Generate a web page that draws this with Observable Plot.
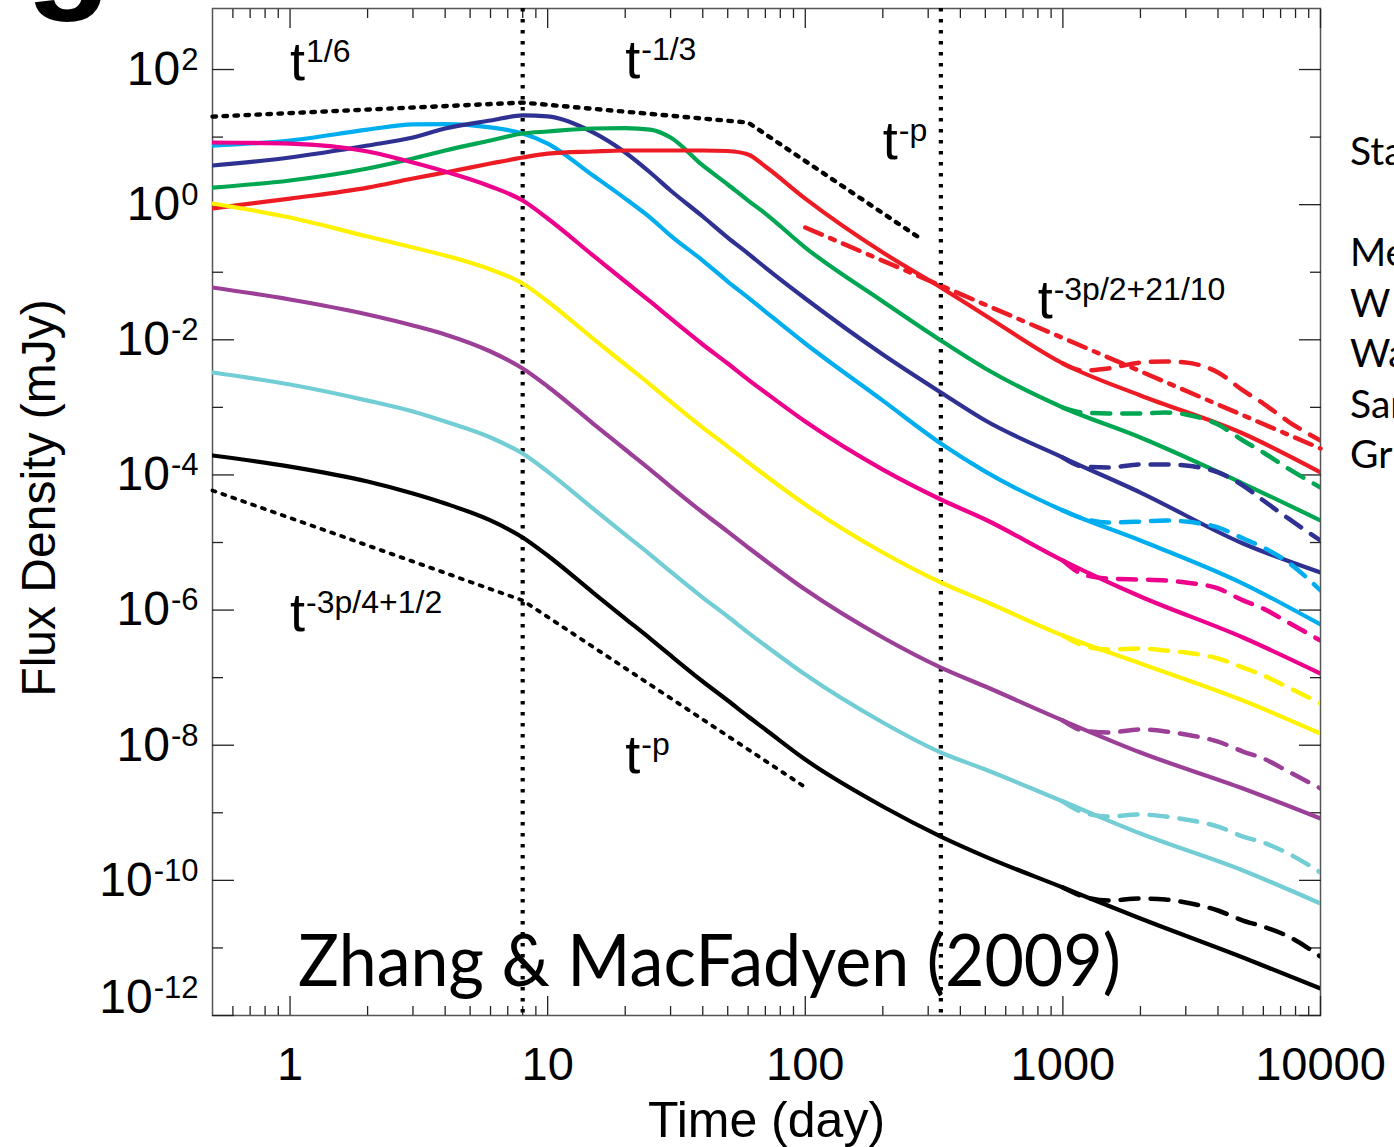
<!DOCTYPE html>
<html><head><meta charset="utf-8">
<script src="https://cdn.jsdelivr.net/npm/d3@7"></script>
<script src="https://cdn.jsdelivr.net/npm/@observablehq/plot@0.6"></script>
<style>
html,body{margin:0;padding:0;background:#fff;overflow:hidden;}
#wrap{position:relative;width:1394px;height:1147px;overflow:hidden;}
#legend{position:absolute;left:1350px;top:125px;font-family:Lato,"Open Sans",sans-serif;font-size:39px;line-height:50.5px;color:#000;white-space:pre;}
#panel{position:absolute;left:26px;top:-126px;font-family:"Liberation Sans",Arial,sans-serif;font-weight:bold;font-size:140px;line-height:140px;color:#000;}
</style></head><body>
<div id="wrap"><div id="chart"></div><div id="legend"></div><div id="panel"></div></div>
<script>
// ---- data (time in days, flux density in mJy) ----
const days = [0.5,1,2,3,4,6,8,10,15,20,25,30,40,50,60,70,100,200,336,500,1000,2000,5000,10000];
const lightBlueFlux = [7.50,8.90,12.9,15.4,15.6,13.9,11.3,8.03,2.70,1.23,0.645,0.349,0.149,0.0729,0.0422,0.0262,0.00881,0.00126,2.92e-4,1.12e-4,2.98e-5,1.07e-5,2.47e-6,6.11e-7];
const navyFlux = [3.80,4.99,7.50,9.86,13.4,17.6,20.9,20.2,11.7,5.91,2.99,1.62,0.668,0.326,0.189,0.117,0.0408,0.00606,0.00166,6.39e-4,1.81e-4,5.49e-5,9.66e-6,3.60e-6];
const greenFlux = [1.79,2.28,3.43,4.82,6.33,8.90,11.3,12.1,13.4,13.6,12.9,9.86,3.80,1.99,1.15,0.739,0.232,0.0369,0.00976,0.00376,9.95e-4,3.58e-4,7.46e-5,2.12e-5];
const redFlux = [0.877,1.23,1.79,2.44,2.99,4.06,4.99,5.71,6.12,6.33,6.33,6.33,6.33,6.22,5.52,3.67,1.23,0.196,0.0594,0.0229,0.00446,0.0015,4.10e-4,1.09e-4];
const magentaFlux = [8.31,8.03,6.12,4.20,3.09,1.86,1.15,0.624,0.177,0.0729,0.0369,0.0207,0.00852,0.00446,0.00258,0.00166,6.17e-4,1.20e-4,4.33e-5,2.19e-5,5.41e-6,1.59e-6,3.93e-7,1.15e-7];
const yellowFlux = [1.04,0.645,0.338,0.232,0.177,0.110,0.0681,0.0369,0.0104,0.00431,0.00218,0.00122,5.03e-4,2.63e-4,1.53e-4,9.80e-5,3.65e-5,7.11e-6,2.56e-6,1.34e-6,4.20e-7,1.62e-7,4.59e-8,1.49e-8];
const purpleFlux = [0.0594,0.0395,0.0237,0.0163,0.0120,0.00671,0.00376,0.00204,5.77e-4,2.38e-4,1.20e-4,6.74e-5,2.78e-5,1.45e-5,8.43e-6,5.41e-6,2.01e-6,3.93e-7,1.41e-7,7.39e-8,2.32e-8,7.80e-9,2.29e-9,8.23e-10];
const tealFlux = [0.00328,0.00218,0.00126,8.68e-4,6.17e-4,3.58e-4,2.07e-4,1.12e-4,3.18e-5,1.31e-5,6.64e-6,3.72e-6,1.53e-6,8.03e-7,4.65e-7,2.99e-7,1.11e-7,2.17e-8,7.80e-9,4.37e-9,1.47e-9,4.93e-10,1.40e-10,4.54e-11];
const blackFlux = [1.94e-4,1.33e-4,7.99e-5,5.31e-5,3.78e-5,2.12e-5,1.19e-5,6.42e-6,1.82e-6,7.50e-7,3.79e-7,2.13e-7,8.77e-8,4.59e-8,2.66e-8,1.71e-8,6.14e-9,1.24e-9,4.45e-10,2.25e-10,7.84e-11,2.72e-11,7.21e-12,2.51e-12];

const lateDays = [1000,1200,1500,2000,2500,3000,4000,5000,6000,7500,10000];
const redDashed = [0.00446,0.00351,0.00376,0.00461,0.00477,0.00461,0.00328,0.00178,0.00114,6.17e-4,3.23e-4];
const greenDashed = [9.95e-4,8.39e-4,8.11e-4,8.11e-4,8.39e-4,7.84e-4,5.57e-4,3.23e-4,2.15e-4,1.24e-4,6.51e-5];
const navyDashed = [1.81e-4,1.33e-4,1.29e-4,1.43e-4,1.43e-4,1.38e-4,1.09e-4,6.98e-5,4.18e-5,2.27e-5,1.07e-5];
const lightBlueDashed = [2.98e-5,2.27e-5,1.98e-5,2.04e-5,2.12e-5,2.04e-5,1.67e-5,1.15e-5,8.43e-6,5.06e-6,1.95e-6];
const magentaDashed = [5.41e-6,3.36e-6,2.93e-6,2.83e-6,2.74e-6,2.56e-6,2.09e-6,1.39e-6,1.05e-6,6.54e-7,3.54e-7];
const yellowDashed = [4.20e-7,2.99e-7,2.61e-7,2.70e-7,2.52e-7,2.35e-7,1.92e-7,1.41e-7,1.08e-7,7.14e-8,4.14e-8];
const purpleDashed = [2.32e-8,1.65e-8,1.54e-8,1.71e-8,1.60e-8,1.44e-8,1.13e-8,8.07e-9,6.36e-9,4.08e-9,2.29e-9];
const tealDashed = [1.47e-9,1.01e-9,8.81e-10,9.43e-10,8.81e-10,7.95e-10,6.26e-10,4.45e-10,3.63e-10,2.49e-10,1.31e-10];
const blackDashed = [7.84e-11,5.77e-11,5.03e-11,5.38e-11,5.20e-11,4.70e-11,3.58e-11,2.54e-11,2.07e-11,1.48e-11,7.46e-12];

// red dash-dot asymptote t^(-3p/2+21/10)
const dashDotDays = [100,10000];
const dashDotFlux = [0.459,2.46e-4];
// black dotted guides
const upperGuideDays = [0.5,8,60,280];
const upperGuideFlux = [20.1,32.4,16.4,0.315];
const lowerGuideDays = [0.5,8,100];
const lowerGuideFlux = [5.89e-5,1.39e-6,2.39e-9];
const breakDays = [8,336];

// annotations
const annotationLabels = ["t^1/6","t^-1/3","t^-p","t^-3p/2+21/10","t^-3p/4+1/2","t^-p"];
const annotationDays = [1.0,20,200,798,1.0,20];
const annotationFlux = [69,76,4.66,0.0207,4.98e-7,3.94e-9];

// ticks
const xLabelValues = [1,10,100,1000,10000];
const xLabelText = ["1","10","100","1000","10000"];
const xMinorTicks = [0.6,0.7,0.8,0.9,2,3,4,5,6,7,8,9,20,30,40,50,60,70,80,90,200,300,400,500,600,700,800,900,2000,3000,4000,5000,6000,7000,8000,9000];
const yLabelValues = [1e2,1e0,1e-2,1e-4,1e-6,1e-8,1e-10,1e-12];
const yLabelText = ["10^2","10^0","10^-2","10^-4","10^-6","10^-8","10^-10","10^-12"];
const yMinorTicks = [1e1,1e-1,1e-3,1e-5,1e-7,1e-9,1e-11];

const legendFragments = ["Sta","","Me","W","Wa","Sar","Gr"];
const panelLetter = "g";
const captionText = "Zhang & MacFadyen (2009)";

// ---- styles ----
const palette = {lightBlue:"#00AEEF", navy:"#2E3192", green:"#00A651", red:"#ED1C24", magenta:"#EC008C", yellow:"#FFF200", purple:"#9B3F97", teal:"#72CDD5", black:"#000000"};
const solidSeries = {lightBlue:lightBlueFlux, navy:navyFlux, green:greenFlux, red:redFlux, magenta:magentaFlux, yellow:yellowFlux, purple:purpleFlux, teal:tealFlux, black:blackFlux};
const dashedSeries = {red:redDashed, green:greenDashed, navy:navyDashed, lightBlue:lightBlueDashed, magenta:magentaDashed, yellow:yellowDashed, purple:purpleDashed, teal:tealDashed, black:blackDashed};

const solidRows = [];
for (const [k, vals] of Object.entries(solidSeries)) vals.forEach((v,i)=>solidRows.push({series:k, day:days[i], flux:v}));
const dashedRows = [];
for (const [k, vals] of Object.entries(dashedSeries)) vals.forEach((v,i)=>dashedRows.push({series:k, day:lateDays[i], flux:v}));
const zip = (xs, ys) => xs.map((x,i)=>({day:x, flux:ys[i]}));

const helv = "Liberation Sans, Arial, Helvetica, sans-serif";
const gill = "Lato, 'Open Sans', sans-serif";
const tickColor = "#222";

const marks = [
  Plot.frame({stroke:"#555", strokeWidth:1.5}),
  // inward ticks on all four sides
  Plot.axisX({anchor:"bottom", ticks:xLabelValues, tickSize:19, dy:-19, fill:"none", stroke:tickColor, strokeWidth:1.3, label:null}),
  Plot.axisX({anchor:"bottom", ticks:xMinorTicks, tickSize:9, dy:-9, fill:"none", stroke:tickColor, strokeWidth:1.3, label:null}),
  Plot.axisX({anchor:"top", ticks:xLabelValues, tickSize:19, dy:19, fill:"none", stroke:tickColor, strokeWidth:1.3, label:null}),
  Plot.axisX({anchor:"top", ticks:xMinorTicks, tickSize:9, dy:9, fill:"none", stroke:tickColor, strokeWidth:1.3, label:null}),
  Plot.axisY({anchor:"left", ticks:yLabelValues, tickSize:22, dx:22, fill:"none", stroke:tickColor, strokeWidth:1.3, label:null}),
  Plot.axisY({anchor:"left", ticks:yMinorTicks, tickSize:11, dx:11, fill:"none", stroke:tickColor, strokeWidth:1.3, label:null}),
  Plot.axisY({anchor:"right", ticks:yLabelValues, tickSize:22, dx:-22, fill:"none", stroke:tickColor, strokeWidth:1.3, label:null}),
  Plot.axisY({anchor:"right", ticks:yMinorTicks, tickSize:11, dx:-11, fill:"none", stroke:tickColor, strokeWidth:1.3, label:null}),
  // guides
  Plot.ruleX(breakDays, {stroke:"#000", strokeWidth:4.2, strokeDasharray:"3.5 7.5"}),
  Plot.line(zip(upperGuideDays, upperGuideFlux), {x:"day", y:"flux", stroke:"#000", strokeWidth:4.4, strokeDasharray:"3.5 7.5"}),
  Plot.line(zip(lowerGuideDays, lowerGuideFlux), {x:"day", y:"flux", stroke:"#000", strokeWidth:3.8, strokeDasharray:"3 7.5"}),
];
for (const k of Object.keys(solidSeries)) {
  marks.push(Plot.line(solidRows.filter(d=>d.series===k), {x:"day", y:"flux", stroke:palette[k], strokeWidth:4.2, curve:"monotone-x", clip:true}));
}
for (const k of Object.keys(dashedSeries)) {
  marks.push(Plot.line(dashedRows.filter(d=>d.series===k), {x:"day", y:"flux", stroke:palette[k], strokeWidth:4.5, strokeDasharray:"18 12", curve:"monotone-x", clip:true}));
}
marks.push(Plot.line(zip(dashDotDays, dashDotFlux), {x:"day", y:"flux", stroke:palette.red, strokeWidth:4.5, strokeDasharray:"18 9 5 9"}));

const annotations = annotationLabels.map((s,i)=>({label:s, day:annotationDays[i], flux:annotationFlux[i]}));
marks.push(
  Plot.text(annotations, {x:"day", y:"flux", text:"label", textAnchor:"start", lineAnchor:"bottom", fontSize:54, fontFamily:helv, fill:"#000"}),
  Plot.text(xLabelValues, {x:d=>d, frameAnchor:"bottom", text:(d,i)=>xLabelText[i], textAnchor:"middle", lineAnchor:"top", dy:31, fontSize:47, fontFamily:helv, fill:"#000"}),
  Plot.text(yLabelValues.slice(0,-1), {y:d=>d, frameAnchor:"left", text:(d,i)=>yLabelText[i], textAnchor:"end", lineAnchor:"middle", dx:-14, fontSize:48, fontFamily:helv, fill:"#000"}),
  Plot.text(yLabelValues.slice(-1), {y:d=>d, frameAnchor:"left", text:()=>yLabelText[yLabelText.length-1], textAnchor:"end", lineAnchor:"middle", dx:-14, dy:-18, fontSize:48, fontFamily:helv, fill:"#000"}),
  Plot.text(["Time (day)"], {frameAnchor:"bottom", textAnchor:"middle", lineAnchor:"bottom", dy:121, fontSize:50, fontFamily:helv, fill:"#000"}),
  Plot.text(["Flux Density (mJy)"], {frameAnchor:"left", textAnchor:"middle", rotate:-90, lineAnchor:"bottom", dx:-158, dy:-14, fontSize:48, fontFamily:helv, fill:"#000"}),
  Plot.text([captionText], {x:()=>1.074, y:()=>2.77e-12, textAnchor:"start", lineAnchor:"bottom", fontSize:72, fontFamily:gill, fill:"#000"})
);

const chart = Plot.plot({
  width:1394, height:1147,
  marginLeft:212, marginRight:74, marginTop:8, marginBottom:132,
  x:{type:"log", domain:[0.5,10000], axis:null},
  y:{type:"log", domain:[1e-12,800], axis:null},
  style:{background:"#fff", overflow:"visible"},
  marks
});

// superscripts: "base^exp" -> base + raised tspan
chart.querySelectorAll("text").forEach(t => {
  const s = t.textContent; const i = s.indexOf("^"); if (i < 0) return;
  const isAnnot = s.startsWith("t");
  t.textContent = s.slice(0,i);
  const ts = document.createElementNS("http://www.w3.org/2000/svg","tspan");
  ts.setAttribute("dy", isAnnot ? -18 : -15);
  ts.setAttribute("dx", 1);
  ts.setAttribute("font-size", isAnnot ? 32 : 31);
  ts.textContent = s.slice(i+1);
  t.appendChild(ts);
});
chart.querySelectorAll("text").forEach(t => {
  if (t.textContent === captionText) { t.setAttribute("textLength", 823); t.setAttribute("lengthAdjust", "spacingAndGlyphs"); }
});

document.getElementById("chart").appendChild(chart);
document.getElementById("legend").textContent = legendFragments.join("\n");
document.getElementById("panel").textContent = panelLetter;
</script>
</body></html>
